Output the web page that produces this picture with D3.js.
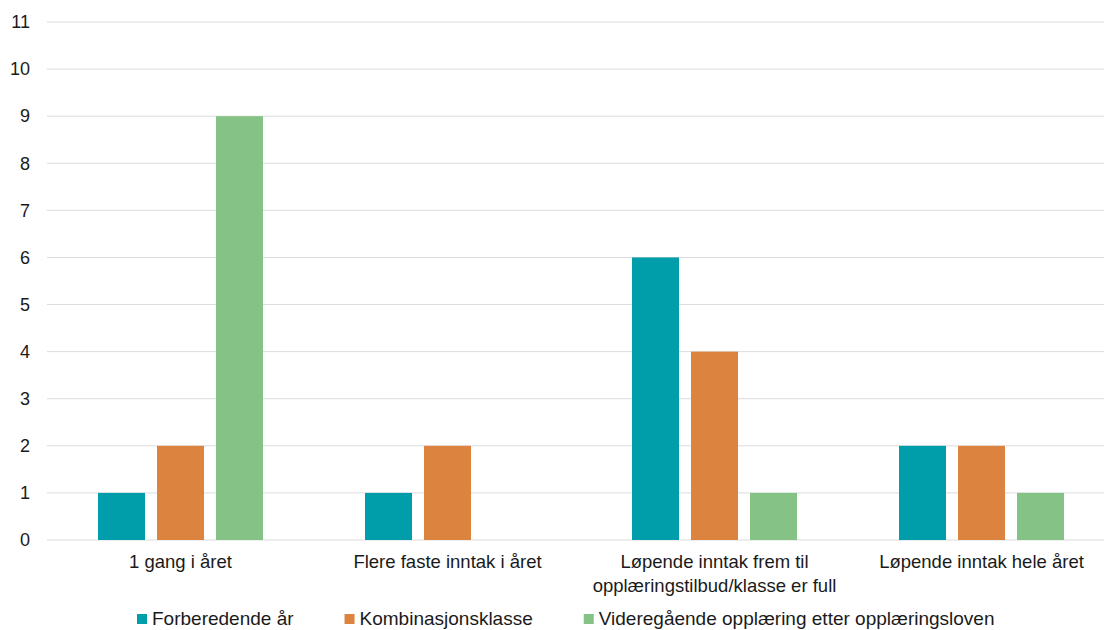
<!DOCTYPE html>
<html><head><meta charset="utf-8">
<script src="https://cdn.jsdelivr.net/npm/d3@7"></script>
<style>body{margin:0;background:#fff}svg{display:block}text{font-family:"Liberation Sans",Arial,sans-serif;fill:#1a1a1a}</style>
</head><body><svg id="c" width="1104" height="630"></svg>
<script>
const categories = [["1 gang i året"],["Flere faste inntak i året"],["Løpende inntak frem til","opplæringstilbud/klasse er full"],["Løpende inntak hele året"]];
const seriesNames = ["Forberedende år","Kombinasjonsklasse","Videregående opplæring etter opplæringsloven"];
const forberedende = [1,1,6,2];
const kombinasjon = [2,2,4,2];
const videregaende = [9,0,1,1];
const colors = ["#009DAB","#DC833F","#85C286"];
const yTicks = [0,1,2,3,4,5,6,7,8,9,10,11];

const values = [forberedende, kombinasjon, videregaende];
const svg = d3.select("#c");
const x0 = d3.scaleBand().domain(d3.range(categories.length)).range([47,1115]).paddingInner(0).paddingOuter(0);
const x1 = d3.scaleBand().domain(d3.range(seriesNames.length)).range([51,216]).paddingInner(12/59).paddingOuter(0);
const y = d3.scaleLinear().domain([0,11]).range([540,22]);

svg.append("g").selectAll("line").data(yTicks).join("line")
  .attr("x1",47).attr("x2",1115).attr("y1",d=>y(d)).attr("y2",d=>y(d))
  .attr("stroke","#dcdcdc").attr("stroke-width",1);
svg.append("g").selectAll("text").data(yTicks).join("text")
  .attr("x",30).attr("y",d=>y(d)).attr("dy","0.35em").attr("text-anchor","end")
  .attr("font-size",18).text(d=>d);
const data = [];
categories.forEach((c,i)=>seriesNames.forEach((s,j)=>data.push({i,j,v:values[j][i]})));
svg.append("g").selectAll("rect").data(data.filter(d=>d.v>0)).join("rect")
  .attr("x",d=>x0(d.i)+x1(d.j)).attr("width",x1.bandwidth())
  .attr("y",d=>y(d.v)).attr("height",d=>y(0)-y(d.v))
  .attr("fill",d=>colors[d.j]);
const xl = svg.append("g").selectAll("text").data(categories).join("text")
  .attr("text-anchor","middle").attr("font-size",18.5)
  .attr("transform",(d,i)=>`translate(${x0(i)+x0.bandwidth()/2},568)`);
xl.selectAll("tspan").data(d=>d).join("tspan").attr("x",0).attr("y",(d,k)=>k*24).text(d=>d);
const lg = svg.append("g");
let lx = 137;
seriesNames.forEach((s,j)=>{
  lg.append("rect").attr("x",lx).attr("y",614).attr("width",10).attr("height",10).attr("fill",colors[j]);
  const t = lg.append("text").attr("x",lx+15).attr("y",625).attr("font-size",19).text(s);
  lx += 15 + t.node().getComputedTextLength() + 51;
});
</script></body></html>
